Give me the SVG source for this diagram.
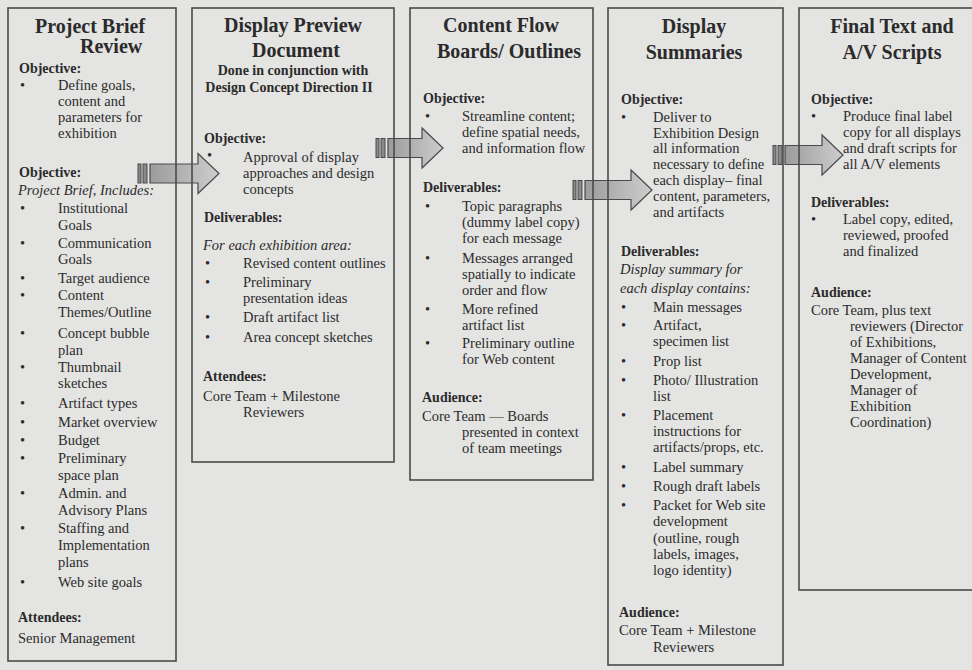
<svg xmlns="http://www.w3.org/2000/svg" width="972" height="670" viewBox="0 0 972 670">
<defs>
<linearGradient id="ag" x1="0" y1="0" x2="1" y2="0">
<stop offset="0" stop-color="#9c9c9c"/>
<stop offset="1" stop-color="#cdcdcd"/>
</linearGradient>
</defs>
<style>
text{font-family:"Liberation Serif","Times New Roman",serif;fill:#2b2b2b}
.h{font-size:20px;font-weight:bold}
.hm{font-size:20px;font-weight:bold;text-anchor:middle}
.sm{font-size:14px;font-weight:bold;text-anchor:middle}
.lb{font-size:14px;font-weight:bold}
.t{font-size:14.5px}
.i{font-size:14.5px;font-style:italic}
.box{fill:none;stroke:#4a4a4a;stroke-width:1.6}
.arr{fill:url(#ag);stroke:#4a4a4a;stroke-width:1.2}
.stub{fill:#8a8a8a;stroke:#4a4a4a;stroke-width:1}
</style>
<rect x="0" y="0" width="972" height="670" fill="#e4e4e2"/>
<g id="connectors">
<g id="arrow-1">
<rect class="stub" x="138" y="164" width="3" height="19"/>
<rect class="stub" x="143" y="164" width="4" height="19"/>
<path class="arr" d="M150,164 H198 V153.5 L219,173.5 L198,193.5 V183 H150 Z"/>
</g>
<g id="arrow-2">
<rect class="stub" x="376" y="138.5" width="3" height="19"/>
<rect class="stub" x="381" y="138.5" width="4" height="19"/>
<path class="arr" d="M388,138.5 H422 V128 L443,148 L422,168 V157.5 H388 Z"/>
</g>
<g id="arrow-3">
<rect class="stub" x="573" y="180.5" width="3" height="19"/>
<rect class="stub" x="578" y="180.5" width="4" height="19"/>
<path class="arr" d="M585,180.5 H631 V170 L652,190 L631,210 V199.5 H585 Z"/>
</g>
<g id="arrow-4">
<rect class="stub" x="773" y="145.5" width="3" height="19"/>
<rect class="stub" x="778" y="145.5" width="4" height="19"/>
<path class="arr" d="M785,145.5 H822 V135 L843,155 L822,175 V164.5 H785 Z"/>
</g>
</g>
<g id="node-project-brief">
<rect class="box" x="8" y="8" width="168" height="653"/>
<text class="h" x="35" y="33">Project Brief</text>
<text class="h" x="80" y="53">Review</text>
<text class="lb" x="19" y="73">Objective:</text>
<text class="t" x="20" y="90">•</text>
<text class="t" x="58" y="90">Define goals,</text>
<text class="t" x="58" y="106">content and</text>
<text class="t" x="58" y="122">parameters for</text>
<text class="t" x="58" y="138">exhibition</text>
<text class="lb" x="19" y="177">Objective:</text>
<text class="i" x="18" y="195">Project Brief, Includes:</text>
<text class="t" x="20" y="213">•</text><text class="t" x="58" y="213">Institutional</text>
<text class="t" x="58" y="230">Goals</text>
<text class="t" x="20" y="248">•</text><text class="t" x="58" y="248">Communication</text>
<text class="t" x="58" y="264">Goals</text>
<text class="t" x="20" y="283">•</text><text class="t" x="58" y="283">Target audience</text>
<text class="t" x="20" y="300">•</text><text class="t" x="58" y="300">Content</text>
<text class="t" x="58" y="317">Themes/Outline</text>
<text class="t" x="20" y="338">•</text><text class="t" x="58" y="338">Concept bubble</text>
<text class="t" x="58" y="355">plan</text>
<text class="t" x="20" y="372">•</text><text class="t" x="58" y="372">Thumbnail</text>
<text class="t" x="58" y="388">sketches</text>
<text class="t" x="20" y="408">•</text><text class="t" x="58" y="408">Artifact types</text>
<text class="t" x="20" y="427">•</text><text class="t" x="58" y="427">Market overview</text>
<text class="t" x="20" y="445">•</text><text class="t" x="58" y="445">Budget</text>
<text class="t" x="20" y="463">•</text><text class="t" x="58" y="463">Preliminary</text>
<text class="t" x="58" y="480">space plan</text>
<text class="t" x="20" y="498">•</text><text class="t" x="58" y="498">Admin. and</text>
<text class="t" x="58" y="515">Advisory Plans</text>
<text class="t" x="20" y="533">•</text><text class="t" x="58" y="533">Staffing and</text>
<text class="t" x="58" y="550">Implementation</text>
<text class="t" x="58" y="567">plans</text>
<text class="t" x="20" y="587">•</text><text class="t" x="58" y="587">Web site goals</text>
<text class="lb" x="18" y="622">Attendees:</text>
<text class="t" x="18" y="643">Senior Management</text>
</g>
<g id="node-display-preview">
<rect class="box" x="192" y="8" width="202" height="454"/>
<text class="hm" x="293" y="32">Display Preview</text>
<text class="hm" x="296" y="57">Document</text>
<text class="sm" x="293" y="75">Done in conjunction with</text>
<text class="sm" x="289" y="92">Design Concept Direction II</text>
<text class="lb" x="204" y="143">Objective:</text>
<text class="t" x="207" y="160">•</text>
<text class="t" x="243" y="162">Approval of display</text>
<text class="t" x="243" y="178">approaches and design</text>
<text class="t" x="243" y="194">concepts</text>
<text class="lb" x="204" y="222">Deliverables:</text>
<text class="i" x="203" y="250">For each exhibition area:</text>
<text class="t" x="205" y="268">•</text><text class="t" x="243" y="268">Revised content outlines</text>
<text class="t" x="205" y="287">•</text><text class="t" x="243" y="287">Preliminary</text>
<text class="t" x="243" y="303">presentation ideas</text>
<text class="t" x="205" y="322">•</text><text class="t" x="243" y="322">Draft artifact list</text>
<text class="t" x="205" y="342">•</text><text class="t" x="243" y="342">Area concept sketches</text>
<text class="lb" x="203" y="381">Attendees:</text>
<text class="t" x="203" y="401">Core Team + Milestone</text>
<text class="t" x="243" y="417">Reviewers</text>
</g>
<g id="node-content-flow">
<rect class="box" x="410" y="8" width="183" height="472"/>
<text class="hm" x="501" y="32">Content Flow</text>
<text class="hm" x="509" y="58">Boards/ Outlines</text>
<text class="lb" x="423" y="103">Objective:</text>
<text class="t" x="425" y="121">•</text>
<text class="t" x="462" y="121">Streamline content;</text>
<text class="t" x="462" y="137">define spatial needs,</text>
<text class="t" x="462" y="153">and information flow</text>
<text class="lb" x="423" y="192">Deliverables:</text>
<text class="t" x="425" y="211">•</text><text class="t" x="462" y="211">Topic paragraphs</text>
<text class="t" x="462" y="227">(dummy label copy)</text>
<text class="t" x="462" y="243">for each message</text>
<text class="t" x="425" y="263">•</text><text class="t" x="462" y="263">Messages arranged</text>
<text class="t" x="462" y="279">spatially to indicate</text>
<text class="t" x="462" y="295">order and flow</text>
<text class="t" x="425" y="314">•</text><text class="t" x="462" y="314">More refined</text>
<text class="t" x="462" y="330">artifact list</text>
<text class="t" x="425" y="348">•</text><text class="t" x="462" y="348">Preliminary outline</text>
<text class="t" x="462" y="364">for Web content</text>
<text class="lb" x="422" y="402">Audience:</text>
<text class="t" x="422" y="421">Core Team — Boards</text>
<text class="t" x="462" y="437">presented in context</text>
<text class="t" x="462" y="453">of team meetings</text>
</g>
<g id="node-display-summaries">
<rect class="box" x="608" y="8" width="175" height="657"/>
<text class="hm" x="694" y="33">Display</text>
<text class="hm" x="694" y="59">Summaries</text>
<text class="lb" x="621" y="104">Objective:</text>
<text class="t" x="621" y="122">•</text>
<text class="t" x="653" y="122">Deliver to</text>
<text class="t" x="653" y="138">Exhibition Design</text>
<text class="t" x="653" y="153">all information</text>
<text class="t" x="653" y="169">necessary to define</text>
<text class="t" x="653" y="185">each display– final</text>
<text class="t" x="653" y="201">content, parameters,</text>
<text class="t" x="653" y="217">and artifacts</text>
<text class="lb" x="621" y="256">Deliverables:</text>
<text class="i" x="620" y="274">Display summary for</text>
<text class="i" x="620" y="293">each display contains:</text>
<text class="t" x="621" y="312">•</text><text class="t" x="653" y="312">Main messages</text>
<text class="t" x="621" y="330">•</text><text class="t" x="653" y="330">Artifact,</text>
<text class="t" x="653" y="346">specimen list</text>
<text class="t" x="621" y="366">•</text><text class="t" x="653" y="366">Prop list</text>
<text class="t" x="621" y="385">•</text><text class="t" x="653" y="385">Photo/ Illustration</text>
<text class="t" x="653" y="401">list</text>
<text class="t" x="621" y="420">•</text><text class="t" x="653" y="420">Placement</text>
<text class="t" x="653" y="436">instructions for</text>
<text class="t" x="653" y="452">artifacts/props, etc.</text>
<text class="t" x="621" y="472">•</text><text class="t" x="653" y="472">Label summary</text>
<text class="t" x="621" y="491">•</text><text class="t" x="653" y="491">Rough draft labels</text>
<text class="t" x="621" y="510">•</text><text class="t" x="653" y="510">Packet for Web site</text>
<text class="t" x="653" y="526">development</text>
<text class="t" x="653" y="543">(outline, rough</text>
<text class="t" x="653" y="559">labels, images,</text>
<text class="t" x="653" y="575">logo identity)</text>
<text class="lb" x="619" y="617">Audience:</text>
<text class="t" x="619" y="635">Core Team + Milestone</text>
<text class="t" x="653" y="652">Reviewers</text>
</g>
<g id="node-final-text">
<rect class="box" x="799" y="8" width="190" height="582"/>
<text class="hm" x="892" y="33">Final Text and</text>
<text class="hm" x="892" y="59">A/V Scripts</text>
<text class="lb" x="811" y="104">Objective:</text>
<text class="t" x="811" y="121">•</text>
<text class="t" x="843" y="121">Produce final label</text>
<text class="t" x="843" y="137">copy for all displays</text>
<text class="t" x="843" y="153">and draft scripts for</text>
<text class="t" x="843" y="169">all A/V elements</text>
<text class="lb" x="811" y="207">Deliverables:</text>
<text class="t" x="811" y="224">•</text>
<text class="t" x="843" y="224">Label copy, edited,</text>
<text class="t" x="843" y="240">reviewed, proofed</text>
<text class="t" x="843" y="256">and finalized</text>
<text class="lb" x="811" y="297">Audience:</text>
<text class="t" x="811" y="315">Core Team, plus text</text>
<text class="t" x="850" y="331">reviewers (Director</text>
<text class="t" x="850" y="347">of Exhibitions,</text>
<text class="t" x="850" y="363">Manager of Content</text>
<text class="t" x="850" y="379">Development,</text>
<text class="t" x="850" y="395">Manager of</text>
<text class="t" x="850" y="411">Exhibition</text>
<text class="t" x="850" y="427">Coordination)</text>
</g>
</svg>
